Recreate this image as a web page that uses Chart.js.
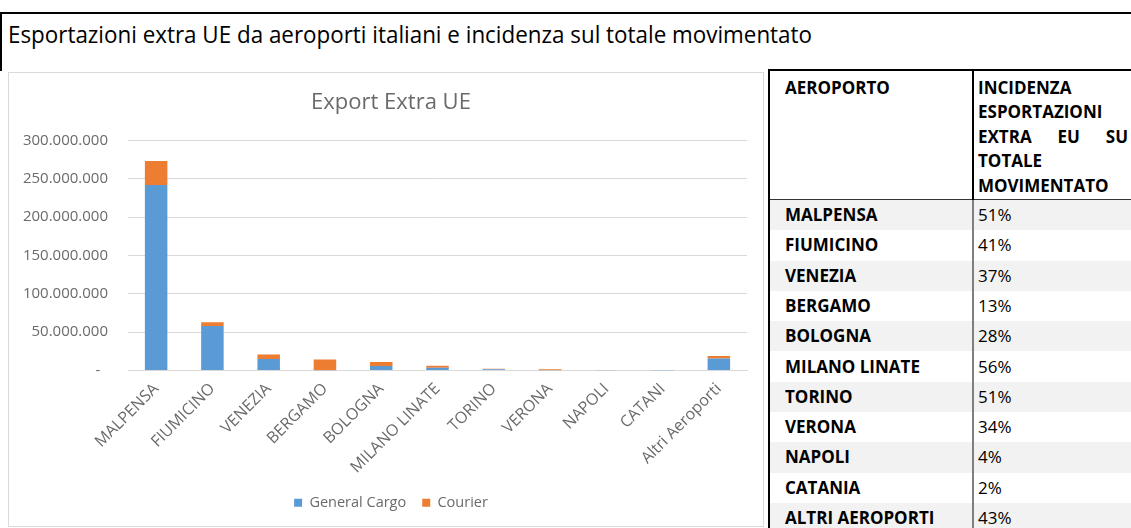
<!DOCTYPE html>
<html>
<head>
<meta charset="utf-8">
<script src="https://cdn.jsdelivr.net/npm/chart.js@4.4.0/dist/chart.umd.min.js"></script>
<style>
    body {
        margin: 0;
        width: 1131px;
        height: 528px;
        overflow: hidden;
        background: #fff;
        position: relative;
        font-family: "Open Sans", sans-serif;
    }
    .title-box {
        position: absolute;
        left: 0;
        top: 12px;
        width: 1131px;
        height: 59px;
        border-top: 2px solid #000;
        border-left: 2px solid #000;
        box-sizing: border-box;
    }
    .title-box span {
        position: absolute;
        left: 6px;
        top: 6px;
        font-size: 23px;
        line-height: 28px;
        white-space: nowrap;
        color: #000;
        transform-origin: left center;
    }
    .chart-box {
        position: absolute;
        left: 8px;
        top: 72px;
        width: 756px;
        height: 455px;
        border: 1px solid #dadada;
        box-sizing: border-box;
    }
    .chart-wrap {
        position: absolute;
        left: 9px;
        top: 73px;
        width: 753px;
        height: 452px;
    }
    .table-box {
        position: absolute;
        left: 768px;
        top: 69px;
        width: 363px;
        height: 470px;
        border-top: 2px solid #000;
        border-left: 2px solid #000;
        box-sizing: border-box;
        overflow: hidden;
        color: #000;
        font-size: 17px;
    }
    .hdr {
        position: absolute;
        left: 0;
        top: 0;
        width: 100%;
        height: 129px;
        border-bottom: 1.5px solid #333;
        box-sizing: border-box;
        font-weight: bold;
    }
    .hdr .c1 { position: absolute; left: 15px; top: 5px; line-height: 24.4px; }
    .hdr .c2 {
        position: absolute;
        left: 208px;
        top: 5px;
        width: 150px;
        line-height: 24.4px;
        text-align: justify;
    }
    .divider {
        position: absolute;
        left: 202px;
        top: 0;
        width: 2px;
        height: 100%;
        background: #000;
    }
    .divider.body { background: #7f7f7f; top: 129px; }
    .row {
        position: absolute;
        left: 0;
        width: 100%;
        height: 30.3px;
        line-height: 30.3px;
    }
    .row.gray { background: #f2f2f2; }
    .row .c1 { position: absolute; left: 15px; font-weight: bold; }
    .row .c2 { position: absolute; left: 208px; }
</style>
</head>
<body>
<div class="title-box"><span id="mainTitle">Esportazioni extra UE da aeroporti italiani e incidenza sul totale movimentato</span></div>
<div class="chart-box"></div>
<div class="chart-wrap"><canvas id="exportChart"></canvas></div>
<div class="table-box" id="tableBox">
    <div class="hdr">
        <div class="c1">AEROPORTO</div>
        <div class="c2">INCIDENZA ESPORTAZIONI EXTRA EU SU TOTALE MOVIMENTATO</div>
    </div>
</div>
<script>
// chart data
const categories = ['MALPENSA', 'FIUMICINO', 'VENEZIA', 'BERGAMO', 'BOLOGNA', 'MILANO LINATE', 'TORINO', 'VERONA', 'NAPOLI', 'CATANI', 'Altri Aeroporti'];
const generalCargo = [242000000, 58000000, 15000000, 400000, 6000000, 3600000, 1500000, 300000, 200000, 100000, 15500000];
const courier = [31000000, 5000000, 6000000, 13800000, 5000000, 2600000, 800000, 1200000, 100000, 50000, 3500000];
const yTicks = [0, 50000000, 100000000, 150000000, 200000000, 250000000, 300000000];

// table data
const airports = ['MALPENSA', 'FIUMICINO', 'VENEZIA', 'BERGAMO', 'BOLOGNA', 'MILANO LINATE', 'TORINO', 'VERONA', 'NAPOLI', 'CATANIA', 'ALTRI AEROPORTI'];
const incidenza = ['51%', '41%', '37%', '13%', '28%', '56%', '51%', '34%', '4%', '2%', '43%'];

// fit the page title to the width it has in the reference
const mainTitle = document.getElementById('mainTitle');
mainTitle.style.transform = 'scaleX(' + (804 / mainTitle.getBoundingClientRect().width) + ')';

// table work
const tableBox = document.getElementById('tableBox');
tableBox.insertAdjacentHTML('beforeend', '<div class="divider" style="height:129px"></div>');
airports.forEach(function (name, i) {
    const top = 129 + i * 30.3;
    tableBox.insertAdjacentHTML('beforeend',
        `<div class="row ${i % 2 == 0 ? 'gray' : ''}" style="top:${top}px">
            <span class="c1">${name}</span><span class="c2">${incidenza[i]}</span>
        </div>`);
});
tableBox.insertAdjacentHTML('beforeend', '<div class="divider body" style="height:400px"></div>');

// excel centres title and legend a bit right of the canvas middle
const shiftBoxes = {
    id: 'shiftBoxes',
    afterLayout: function (chart) {
        if (chart.legend) {
            chart.legend.left += 26
        }
        if (chart.titleBlock) {
            chart.titleBlock.left += 26
        }
    }
}

// chart work
const tickColor = '#6a6a6a';
const gridColor = '#d9d9d9';
const exportChartConfig = {
    type: 'bar',
    data: {
        labels: categories,
        datasets: [
            {
                label: 'General Cargo',
                data: generalCargo,
                backgroundColor: '#5b9bd5',
                barPercentage: 0.4,
                categoryPercentage: 1
            },
            {
                label: 'Courier',
                data: courier,
                backgroundColor: '#ed7d31',
                barPercentage: 0.4,
                categoryPercentage: 1
            }
        ]
    },
    options: {
        responsive: true,
        maintainAspectRatio: false,
        animation: false,
        layout: {
            padding: { left: 0, right: 15, top: 0, bottom: 5 }
        },
        scales: {
            x: {
                stacked: true,
                grid: { display: false, drawTicks: false },
                border: { display: true, color: gridColor, width: 1 },
                ticks: {
                    color: tickColor,
                    font: { family: 'Open Sans', size: 16 },
                    minRotation: 45,
                    maxRotation: 45,
                    padding: 9,
                    autoSkip: false
                },
                afterFit: function (scale) {
                    scale.height = 109
                }
            },
            y: {
                stacked: true,
                min: 0,
                max: 300000000,
                afterBuildTicks: function (scale) {
                    scale.ticks = yTicks.map(v => ({ value: v }))
                },
                grid: { color: gridColor, lineWidth: 1, drawTicks: false },
                border: { display: false },
                ticks: {
                    color: tickColor,
                    font: { family: 'Open Sans', size: 15 },
                    padding: 20,
                    callback: function (value) {
                        if (value == 0) {
                            return '-  '
                        }
                        return value.toString().replace(/\B(?=(\d{3})+(?!\d))/g, '.')
                    }
                },
                afterFit: function (scale) {
                    scale.width = 119
                }
            }
        },
        plugins: {
            title: {
                display: true,
                text: 'Export Extra UE',
                color: '#6a6a6a',
                font: { family: 'Open Sans', size: 22, weight: 'normal' },
                padding: { top: 17, bottom: 24 }
            },
            legend: {
                display: true,
                position: 'bottom',
                labels: {
                    color: tickColor,
                    font: { family: 'Open Sans', size: 14.5 },
                    boxWidth: 8,
                    boxHeight: 8,
                    padding: 16
                }
            },
            tooltip: { enabled: false }
        }
    },
    plugins: [shiftBoxes]
}
const exportChartCtx = document.getElementById('exportChart');
const exportChart = new Chart(exportChartCtx, exportChartConfig)
</script>
</body>
</html>
